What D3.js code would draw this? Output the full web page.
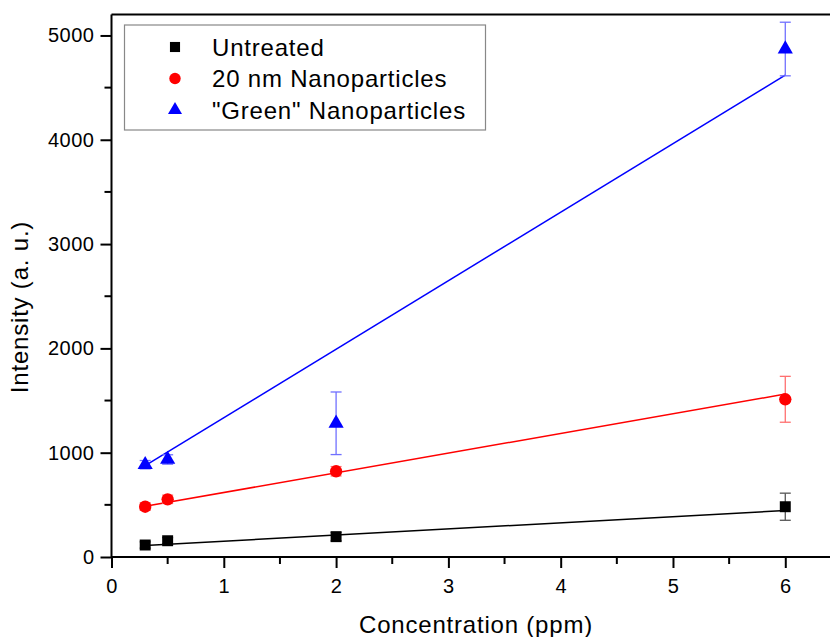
<!DOCTYPE html>
<html>
<head>
<meta charset="utf-8">
<title>Intensity vs concentration</title>
<script src="https://cdn.jsdelivr.net/npm/d3@7"></script>
<style>
  body { margin: 0; background: #fff; }
  svg { display: block; font-family: "Liberation Sans", Arial, sans-serif; }
  .tick text { font-size: 20px; letter-spacing: 0.5px; fill: #000; }
</style>
</head>
<body>
<script>
// data
var concentration = [0.3, 0.5, 2, 6];
var untreated = [115, 156, 195, 482];
var untreatedErr = [30, 30, 40, 130];
var nano20 = [482, 553, 822, 1512];
var nano20Err = [35, 40, 45, 220];
var green = [885, 935, 1282, 4870];
var greenErr = [40, 45, 300, 257];

// linear fit end points (x, y)
var fitUntreated = [[0.3, 110], [6, 445]];
var fitNano20 = [[0.3, 486], [6, 1562]];
var fitGreen = [[0.3, 875], [6, 4620]];

var seriesNames = ["Untreated", "20 nm Nanoparticles", "\"Green\" Nanoparticles"];
var xTicks = [0, 1, 2, 3, 4, 5, 6];
var yTicks = [0, 1000, 2000, 3000, 4000, 5000];

var w = 830, h = 637;
var margin = {top: 15, left: 111.5, bottom: 557};

var svg = d3.select("body").append("svg")
    .attr("width", w)
    .attr("height", h);

var x = d3.scaleLinear().domain([0, 6.4]).range([margin.left, 830.2]);
var y = d3.scaleLinear().domain([0, 5200]).range([margin.bottom, 14.6]);

var series = [
  {name: seriesNames[0], vals: untreated, err: untreatedErr, fit: fitUntreated, color: "#000000", errColor: "#555555", sym: d3.symbolSquare, size: 120},
  {name: seriesNames[1], vals: nano20, err: nano20Err, fit: fitNano20, color: "#ff0000", errColor: "#ff7070", sym: d3.symbolCircle, size: 120},
  {name: seriesNames[2], vals: green, err: greenErr, fit: fitGreen, color: "#0000ff", errColor: "#7070ff", sym: d3.symbolTriangle, size: 100}
];

// frame (right side runs off the picture)
svg.append("line").attr("x1", margin.left).attr("x2", w + 5)
    .attr("y1", y(5200)).attr("y2", y(5200))
    .attr("stroke", "#000").attr("stroke-width", 2);

// axes
var xAxis = svg.append("g")
    .attr("transform", "translate(0," + margin.bottom + ")")
    .call(d3.axisBottom(x).tickValues(xTicks).tickSize(11).tickPadding(6).tickFormat(d3.format("d")));
var yAxis = svg.append("g")
    .attr("transform", "translate(" + margin.left + ",0)")
    .call(d3.axisLeft(y).tickValues(yTicks).tickSize(11).tickPadding(6).tickFormat(d3.format("d")));

[xAxis, yAxis].forEach(function(g) {
  g.select(".domain").attr("stroke-width", 2);
  g.selectAll(".tick line").attr("stroke-width", 2);
});
xAxis.select(".domain").attr("d", "M" + margin.left + ",0H" + (w + 5));
yAxis.select(".domain").attr("d", "M0," + margin.bottom + "V" + y(5200));
xAxis.selectAll(".tick text").attr("dy", "0.95em");

// minor ticks
svg.append("g").selectAll("line")
    .data([0.5, 1.5, 2.5, 3.5, 4.5, 5.5])
    .enter().append("line")
    .attr("x1", function(d) { return x(d); })
    .attr("x2", function(d) { return x(d); })
    .attr("y1", margin.bottom).attr("y2", margin.bottom + 7)
    .attr("stroke", "#000").attr("stroke-width", 2);
svg.append("g").selectAll("line")
    .data([500, 1500, 2500, 3500, 4500])
    .enter().append("line")
    .attr("y1", function(d) { return y(d); })
    .attr("y2", function(d) { return y(d); })
    .attr("x1", margin.left).attr("x2", margin.left - 7)
    .attr("stroke", "#000").attr("stroke-width", 2);

// axis titles
svg.append("text")
    .attr("x", 476).attr("y", 633)
    .attr("text-anchor", "middle")
    .style("font-size", "24px").style("letter-spacing", "0.8px")
    .text("Concentration (ppm)");
svg.append("text")
    .attr("transform", "translate(28,307) rotate(-90)")
    .attr("text-anchor", "middle")
    .style("font-size", "24px").style("letter-spacing", "0.8px")
    .text("Intensity (a. u.)");

// fit lines
var line = d3.line().x(function(d) { return x(d[0]); }).y(function(d) { return y(d[1]); });
series.forEach(function(s) {
  svg.append("path")
      .attr("d", line(s.fit))
      .attr("fill", "none")
      .attr("stroke", s.color)
      .attr("stroke-width", 1.5);
});

// error bars and markers
series.forEach(function(s) {
  var g = svg.append("g");
  var pts = concentration.map(function(c, i) { return {x: c, y: s.vals[i], e: s.err[i]}; });
  var eb = g.selectAll(".eb").data(pts).enter().append("g")
      .attr("stroke", s.errColor).attr("stroke-width", 1.3);
  eb.append("line")
      .attr("x1", function(d) { return x(d.x); }).attr("x2", function(d) { return x(d.x); })
      .attr("y1", function(d) { return y(d.y - d.e); }).attr("y2", function(d) { return y(d.y + d.e); });
  eb.append("line")
      .attr("x1", function(d) { return x(d.x) - 5.5; }).attr("x2", function(d) { return x(d.x) + 5.5; })
      .attr("y1", function(d) { return y(d.y + d.e); }).attr("y2", function(d) { return y(d.y + d.e); });
  eb.append("line")
      .attr("x1", function(d) { return x(d.x) - 5.5; }).attr("x2", function(d) { return x(d.x) + 5.5; })
      .attr("y1", function(d) { return y(d.y - d.e); }).attr("y2", function(d) { return y(d.y - d.e); });

  g.selectAll(".pt").data(pts).enter().append("path")
      .attr("d", d3.symbol().type(s.sym).size(s.size))
      .attr("transform", function(d) { return "translate(" + x(d.x) + "," + y(d.y) + ")"; })
      .attr("fill", s.color);
});

// legend
var lg = svg.append("g");
lg.append("rect")
    .attr("x", 124.5).attr("y", 25)
    .attr("width", 361).attr("height", 105)
    .attr("fill", "#fff").attr("stroke", "#888").attr("stroke-width", 1.2);
var rowY = [47, 78.5, 110];
series.forEach(function(s, i) {
  lg.append("path")
      .attr("d", d3.symbol().type(s.sym).size(s.size * 0.85))
      .attr("transform", "translate(175," + rowY[i] + ")")
      .attr("fill", s.color);
  lg.append("text")
      .attr("x", 212).attr("y", rowY[i] + 8.5)
      .style("font-size", "24px").style("letter-spacing", "0.8px")
      .text(s.name);
});
</script>
</body>
</html>
